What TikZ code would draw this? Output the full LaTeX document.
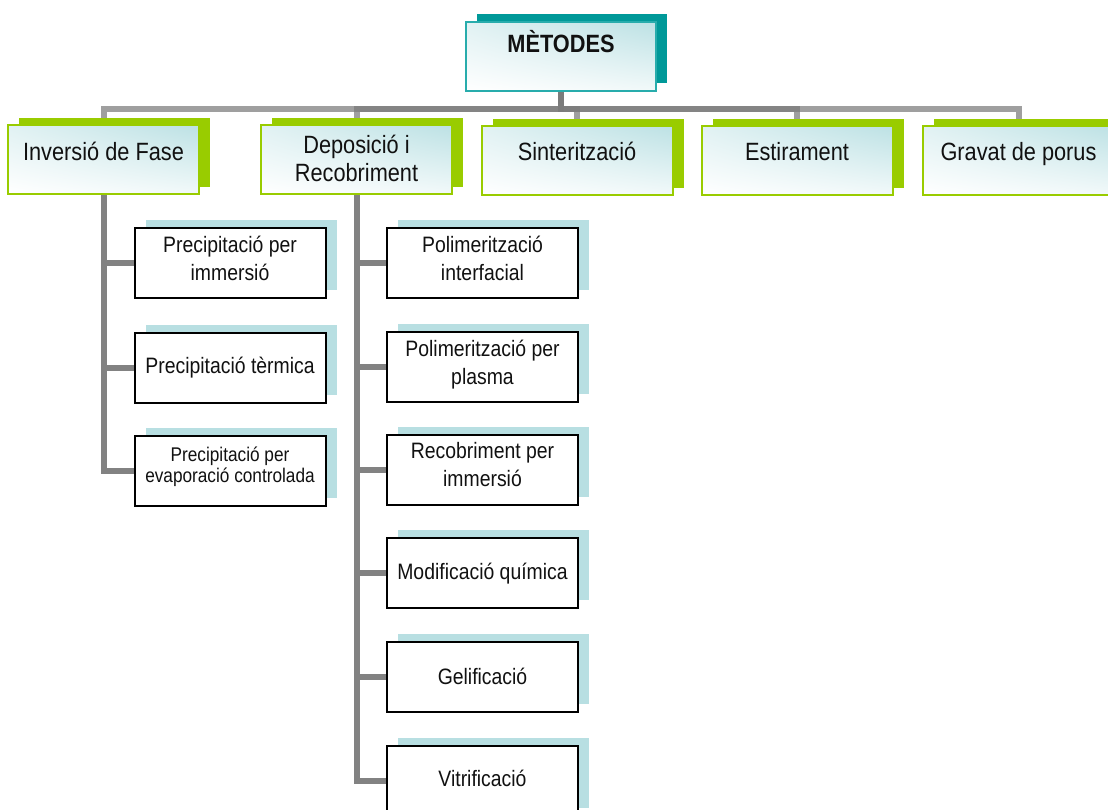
\documentclass[tikz,border=0pt]{standalone}
\usepackage{fontspec}
\setmainfont{Liberation Sans}[FakeStretch=0.87]
\usetikzlibrary{shadows,shadings,backgrounds,calc}

\definecolor{tealdark}{RGB}{0,153,153}
\definecolor{tealline}{RGB}{40,172,172}
\definecolor{limegreen}{RGB}{153,204,0}
\definecolor{paleblue}{RGB}{184,223,226}
\definecolor{gradblue}{RGB}{188,225,228}
\definecolor{connGray}{RGB}{122,122,122}
\definecolor{branchGray}{RGB}{130,130,130}
\definecolor{txt}{RGB}{17,17,17}

\begin{document}
\begin{tikzpicture}[x=1pt,y=-1pt,
  gradfill/.style={shade, upper right=gradblue, upper left=white!55!gradblue,
    lower right=white!80!gradblue, lower left=white},
  rootbox/.style={gradfill, draw=tealline, line width=2.2pt,
    minimum width=190pt, minimum height=69pt, inner sep=0pt,
    drop shadow={shadow xshift=11pt, shadow yshift=8pt, fill=tealdark, opacity=1}},
  groupbox/.style={gradfill, draw=limegreen, line width=2pt,
    minimum width=191pt, minimum height=69pt, inner sep=0pt,
    drop shadow={shadow xshift=11pt, shadow yshift=7pt, fill=limegreen, opacity=1}},
  leafbox/.style={fill=white, draw=black, line width=2pt,
    minimum width=191pt, minimum height=70pt, inner sep=0pt,
    drop shadow={shadow xshift=11pt, shadow yshift=8pt, fill=paleblue, opacity=1}},
  roottext/.style={anchor=base, inner sep=0pt, text=txt,
    font=\fontsize{25}{28}\selectfont\bfseries},
  grouptext/.style={anchor=base, inner sep=0pt, align=center, text=txt,
    font=\fontsize{25}{28}\selectfont},
  leaftext/.style={anchor=base, inner sep=0pt, align=center, text=txt,
    font=\fontsize{22.3}{28}\selectfont},
  smalltext/.style={anchor=base, inner sep=0pt, align=center, text=txt,
    font=\fontsize{19.8}{21}\selectfont},
  conn/.style={draw=connGray, line width=6pt, draw opacity=0.72},
  branch/.style={draw=branchGray, line width=6pt}
]
\useasboundingbox (0,0) rectangle (1108,809);

% root
\node[rootbox] (met) at (561,56.5) {};
\node[roottext] (tmet) at (561,52.5) {MÈTODES};

% first level (multi-line texts are placed by their last baseline)
\node[groupbox] (inv) at (103.5,159.5) {};
\node[groupbox] (dep) at (356.5,159.5) {};
\node[groupbox] (sin) at (577,160) {};
\node[groupbox] (est) at (797,160) {};
\node[groupbox] (gra) at (1018.5,160) {};
\node[grouptext] (tinv) at (103.5,160) {Inversió de Fase};
\node[grouptext] (tdep) at (356.5,181) {Deposició i\\Recobriment};
\node[grouptext] (tsin) at (577,160) {Sinterització};
\node[grouptext] (test) at (797,160) {Estirament};
\node[grouptext] (tgra) at (1018.5,160) {Gravat de porus};

% phase inversion methods
\node[leafbox] (pi1) at (230,263) {};
\node[leafbox] (pi2) at (230,367.5) {};
\node[leafbox] (pi3) at (230,470.5) {};
\node[leaftext] (tpi1) at (230,280) {Precipitació per\\immersió};
\node[leaftext] (tpi2) at (230,373) {Precipitació tèrmica};
\node[smalltext] (tpi3) at (230,482) {Precipitació per\\evaporació controlada};

% deposition and coating methods
\node[leafbox] (d1) at (482.5,263) {};
\node[leafbox] (d2) at (482.5,367) {};
\node[leafbox] (d3) at (482.5,470) {};
\node[leafbox] (d4) at (482.5,573) {};
\node[leafbox] (d5) at (482.5,677) {};
\node[leafbox] (d6) at (482.5,781) {};
\node[leaftext] (td1) at (482.5,280) {Polimerització\\interfacial};
\node[leaftext] (td2) at (482.5,384) {Polimerització per\\plasma};
\node[leaftext] (td3) at (482.5,486) {Recobriment per\\immersió};
\node[leaftext] (td4) at (482.5,579) {Modificació química};
\node[leaftext] (td5) at (482.5,684) {Gelificació};
\node[leaftext] (td6) at (482.5,786) {Vitrificació};

% connectors behind the boxes
\begin{scope}[on background layer]
  \foreach \c in {inv,dep,sin,est,gra}
    \draw[conn] (met.south) -- ++(0,17) -| (\c.north);
  \foreach \c in {pi1,pi2,pi3}
    \draw[branch] (inv.south) |- (\c.west);
  \foreach \c in {d1,d2,d3,d4,d5,d6}
    \draw[branch] (dep.south) |- (\c.west);
\end{scope}
\end{tikzpicture}
\end{document}
